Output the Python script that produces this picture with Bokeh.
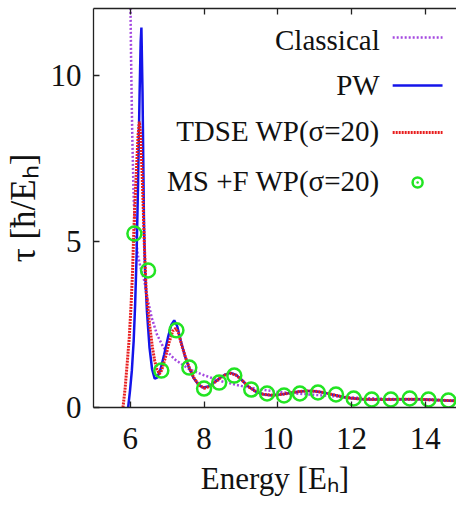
import math
from bokeh.plotting import figure
from bokeh.models import FixedTicker, LinearAxis, Label, Range1d
from bokeh.embed import file_html
from bokeh.resources import INLINE

# ---------------- data ----------------
classical_x = [6.0, 6.02, 6.05, 6.09, 6.14, 6.2, 6.28, 6.38, 6.48, 6.58, 6.72, 6.9, 7.2, 7.6, 8.0,
               8.5, 9.0, 9.5, 10.0, 10.5, 11.0, 11.5, 12.0, 12.5, 13.0, 13.5, 14.0, 14.5, 14.85]
classical_y = [12.5, 10.5, 8.3, 6.3, 5.2, 4.6, 4.2, 3.8, 3.2, 2.7, 2.2, 1.8, 1.45, 1.15, 0.97,
               0.78, 0.65, 0.55, 0.47, 0.42, 0.38, 0.34, 0.3, 0.28, 0.26, 0.24, 0.23, 0.21, 0.2]

pw_x = [5.94, 5.99, 6.04, 6.09, 6.13, 6.17, 6.21, 6.25, 6.28, 6.30, 6.33, 6.35, 6.37, 6.40, 6.45,
        6.52, 6.59, 6.66, 6.73, 6.82, 6.92, 7.02, 7.11, 7.19, 7.27, 7.37, 7.48, 7.6, 7.72, 7.86,
        7.98, 8.12, 8.27, 8.42, 8.57, 8.72, 8.87, 9.02, 9.2, 9.4, 9.6, 9.8, 10.0, 10.2, 10.4,
        10.6, 10.8, 11.0, 11.2, 11.4, 11.6, 11.8, 12.0, 12.3, 12.6, 13.0, 13.4, 13.8, 14.2,
        14.6, 14.85]
pw_y = [0.0, 0.5, 1.1, 2.0, 3.1, 4.6, 6.8, 9.4, 11.0, 11.43, 9.5, 7.5, 5.5, 4.1, 2.9,
        1.8, 1.15, 0.87, 0.9, 1.15, 1.6, 2.1, 2.48, 2.62, 2.45, 2.0, 1.55, 1.17, 0.88, 0.67,
        0.6, 0.63, 0.75, 0.88, 0.99, 1.04, 0.98, 0.83, 0.63, 0.48, 0.4, 0.37, 0.38, 0.41, 0.45,
        0.48, 0.5, 0.49, 0.46, 0.41, 0.36, 0.31, 0.28, 0.25, 0.24, 0.24, 0.25, 0.25, 0.23,
        0.21, 0.2]

tdse_x = [5.80, 5.86, 5.92, 5.97, 6.02, 6.06, 6.09, 6.13, 6.18, 6.21, 6.245, 6.28, 6.32, 6.35,
          6.38, 6.43, 6.52, 6.6, 6.66, 6.72, 6.79, 6.85, 6.95, 7.05, 7.15, 7.23, 7.3, 7.4, 7.5,
          7.6, 7.72, 7.86, 8.0, 8.12, 8.27, 8.42, 8.57, 8.72, 8.87, 9.02, 9.2, 9.4, 9.6, 9.8,
          10.0, 10.2, 10.4, 10.6, 10.8, 11.0, 11.2, 11.4, 11.6, 11.8, 12.0, 12.3, 12.6, 13.0,
          13.4, 13.8, 14.2, 14.6, 14.85]
tdse_y = [0.0, 0.6, 1.4, 2.1, 3.1, 4.1, 5.2, 6.3, 7.5, 8.2, 8.6, 8.2, 7.0, 6.0,
          4.9, 3.5, 2.5, 1.8, 1.41, 1.15, 1.01, 1.12, 1.5, 1.95, 2.3, 2.38, 2.25, 1.85, 1.5,
          1.2, 0.9, 0.68, 0.58, 0.62, 0.74, 0.87, 0.98, 1.03, 0.97, 0.83, 0.63, 0.48, 0.4, 0.37,
          0.38, 0.41, 0.45, 0.48, 0.5, 0.49, 0.46, 0.41, 0.36, 0.31, 0.28, 0.25, 0.24, 0.24,
          0.25, 0.25, 0.23, 0.21, 0.2]

ms_x = [6.11, 6.48, 6.84, 7.25, 7.60, 8.00, 8.41, 8.82, 9.28, 9.71, 10.17, 10.60, 11.09,
        11.58, 12.06, 12.55, 13.07, 13.58, 14.09, 14.63]
ms_y = [5.23, 4.12, 1.11, 2.32, 1.20, 0.57, 0.75, 0.96, 0.54, 0.42, 0.36, 0.42, 0.45,
        0.39, 0.27, 0.24, 0.24, 0.27, 0.24, 0.21]

x_ticks = [6, 8, 10, 12, 14]
y_ticks = [0, 5, 10]

labels = ["Classical", "PW", "TDSE WP(σ=20)", "MS +F WP(σ=20)"]
x_label = "Energy [Eₕ]"
y_label = "τ [ħ/Eₕ]"

# ---------------- layout ----------------
W, H = 456, 515
FL, FT, FB = 92, 8, 108
X0, X1 = 5.0, 14.85
Y0, Y1 = 0.0, 12.0
FONT = "Liberation Serif"

C_CL = "#a448e0"
C_PW = "#1414ea"
C_TD = "#e81e1e"
C_MS = "#22e422"
AX = "#222222"


def fx(px):  # canvas pixel -> data x
    return X0 + (px - FL) * (X1 - X0) / (W - FL)


def fy(py):  # canvas pixel -> data y
    return Y0 + (H - FB - py) * (Y1 - Y0) / (H - FB - FT)


p = figure(width=W, height=H, x_range=Range1d(X0, X1), y_range=Range1d(Y0, Y1),
           output_backend="svg", toolbar_location=None,
           min_border_left=FL, min_border_right=0, min_border_top=FT, min_border_bottom=FB)
p.outline_line_color = None
p.xgrid.visible = False
p.ygrid.visible = False
p.background_fill_color = "white"
p.border_fill_color = "white"

bottom = p.below[0]
left = p.left[0]
top = LinearAxis(ticker=FixedTicker(ticks=x_ticks), major_label_text_font_size="0px",
                 major_label_text_alpha=0, major_label_standoff=0)
p.add_layout(top, "above")

bottom.ticker = FixedTicker(ticks=x_ticks)
left.ticker = FixedTicker(ticks=y_ticks)

for ax in [bottom, left, top]:
    ax.major_tick_in = 6
    ax.major_tick_out = 0
    ax.minor_tick_in = 0
    ax.minor_tick_out = 0
    ax.axis_line_color = AX
    ax.axis_line_width = 1.3
    ax.major_tick_line_color = AX
    ax.major_tick_line_width = 1.3
    ax.major_label_text_font = FONT
    ax.major_label_text_color = "#111111"

for ax in [bottom, left]:
    ax.major_label_text_font_size = "31px"
    ax.axis_label_text_font = FONT
    ax.axis_label_text_font_style = "normal"
    ax.axis_label_text_color = "#111111"

bottom.major_label_standoff = 20
bottom.axis_label = x_label
bottom.axis_label_text_font_size = "31px"
bottom.axis_label_standoff = 9

left.major_label_standoff = 12
left.axis_label = y_label
left.axis_label_text_font_size = "35px"
left.axis_label_standoff = 5

# curves
p.line(classical_x, classical_y, line_color=C_CL, line_width=2.5, line_dash="2 2")
p.line(pw_x, pw_y, line_color=C_PW, line_width=2.5)
p.line(tdse_x, tdse_y, line_color=C_TD, line_width=3, line_dash="2 1")
p.scatter(ms_x, ms_y, marker="circle", size=14, fill_color=None, line_color=C_MS, line_width=2.5)

# legend (text on the left, sample on the right)
text_right = fx(379)
text_rows = [fy(39), fy(84), fy(130), fy(180)]
sample_rows = [fy(37), fy(85), fy(132), fy(182)]
sx0, sx1, sxc = fx(392), fx(442), fx(417)

for lab, yy in zip(labels, text_rows):
    p.add_layout(Label(x=text_right, y=yy, text=lab, text_align="right", text_baseline="middle",
                       text_font=FONT, text_font_size="29px", text_color="#111111"))

p.line([sx0, sx1], [sample_rows[0]] * 2, line_color=C_CL, line_width=2.5, line_dash="2 2")
p.line([sx0, sx1], [sample_rows[1]] * 2, line_color=C_PW, line_width=2.5)
p.line([sx0, sx1], [sample_rows[2]] * 2, line_color=C_TD, line_width=3, line_dash="2 1")
p.scatter([sxc], [sample_rows[3]], marker="circle_dot", size=10, fill_color=None,
          line_color=C_MS, line_width=2.5)

open("out.html", "w").write(file_html(p, INLINE))
